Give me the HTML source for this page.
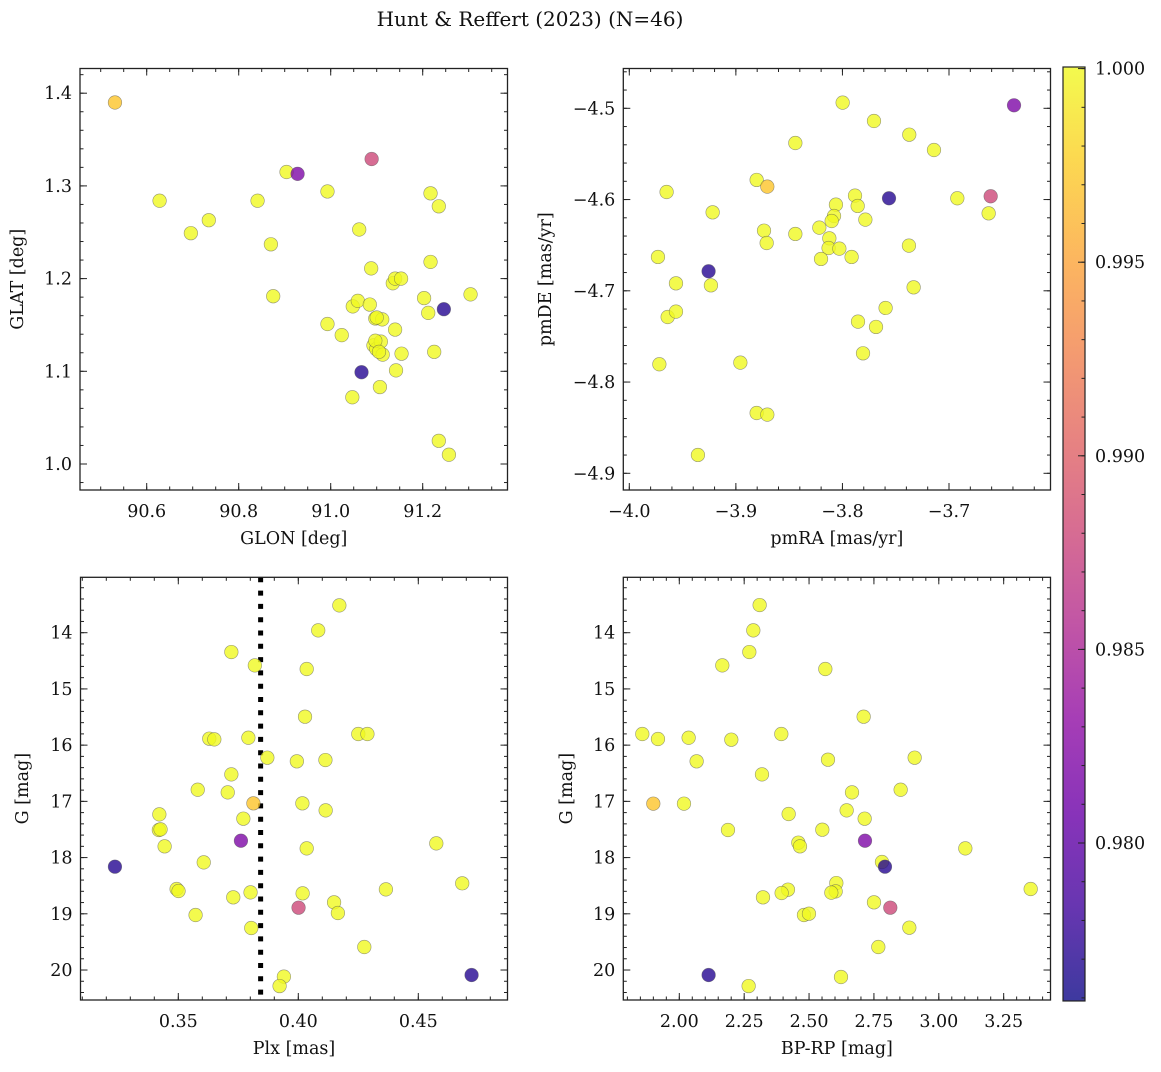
<!DOCTYPE html>
<html><head><meta charset="utf-8">
<style>
html,body{margin:0;padding:0;background:#fff;}
svg text{font-family:"DejaVu Serif","Liberation Serif",serif;fill:#111;}
</style></head>
<body>
<svg id="fig" width="1161" height="1067" viewBox="0 0 1161 1067" xmlns="http://www.w3.org/2000/svg">
<defs>
<linearGradient id="plasma" x1="0" y1="1" x2="0" y2="0">
<stop offset="0" stop-color="#0d0887"/><stop offset="0.1" stop-color="#41049d"/><stop offset="0.2" stop-color="#6a00a8"/><stop offset="0.3" stop-color="#8f0da4"/><stop offset="0.4" stop-color="#b12a90"/><stop offset="0.5" stop-color="#cc4778"/><stop offset="0.6" stop-color="#e16462"/><stop offset="0.7" stop-color="#f2844b"/><stop offset="0.8" stop-color="#fca636"/><stop offset="0.9" stop-color="#fcce25"/><stop offset="1" stop-color="#f0f921"/>
</linearGradient>
</defs>
<text x="530" y="26" font-size="20" text-anchor="middle">Hunt &amp; Reffert (2023) (N=46)</text>
</svg>
<script>
// ---- data ----
const glon=[90.531,90.628,90.696,90.735,90.841,90.870,90.875,90.904,90.928,90.993,90.993,91.024,91.047,91.048,91.059,91.062,91.067,91.085,91.088,91.089,91.093,91.097,91.099,91.107,91.109,91.112,91.113,91.135,91.140,91.153,91.140,91.142,91.154,91.203,91.212,91.217,91.217,91.225,91.235,91.235,91.246,91.257,91.304,91.100,91.097,91.105];
const glat=[1.390,1.284,1.249,1.263,1.284,1.237,1.181,1.315,1.313,1.294,1.151,1.139,1.072,1.170,1.176,1.253,1.099,1.172,1.211,1.329,1.128,1.157,1.124,1.083,1.132,1.156,1.118,1.195,1.200,1.200,1.145,1.101,1.119,1.179,1.163,1.218,1.292,1.121,1.278,1.025,1.167,1.010,1.183,1.158,1.133,1.121];
const probP1=[0.997,1,1,1,1,1,1,1,0.982,1,1,1,1,1,1,1,0.977,1,1,0.988,1,1,1,1,1,1,1,1,1,1,1,1,1,1,1,1,1,1,1,1,0.977,1,1,1,1,1];

const pmra=[-3.7998,-3.7704,-3.7373,-3.7141,-3.6390,-3.8442,-3.8805,-3.8705,-3.9650,-3.9218,-3.7882,-3.7857,-3.8061,-3.8079,-3.8101,-3.7785,-3.7563,-3.6922,-3.6609,-3.6628,-3.8736,-3.8711,-3.8442,-3.8217,-3.8123,-3.8130,-3.8029,-3.8201,-3.7914,-3.7376,-3.9731,-3.9256,-3.9234,-3.9562,-3.9640,-3.9562,-3.7332,-3.7595,-3.7854,-3.7685,-3.7807,-3.9718,-3.8958,-3.8805,-3.8705,-3.9356];
const pmde=[-4.4938,-4.5139,-4.5289,-4.5457,-4.4967,-4.5380,-4.5785,-4.5858,-4.5917,-4.6140,-4.5957,-4.6070,-4.6056,-4.6180,-4.6235,-4.6220,-4.5986,-4.5986,-4.5964,-4.6151,-4.6341,-4.6476,-4.6377,-4.6308,-4.6425,-4.6531,-4.6538,-4.6651,-4.6629,-4.6505,-4.6629,-4.6786,-4.6940,-4.6918,-4.7287,-4.7228,-4.6962,-4.7188,-4.7338,-4.7396,-4.7685,-4.7805,-4.7787,-4.8339,-4.8357,-4.8799];
const probP2=[1,1,1,1,0.982,1,1,0.997,1,1,1,1,1,1,1,1,0.977,1,0.988,1,1,1,1,1,1,1,1,1,1,1,1,0.977,1,1,1,1,1,1,1,1,1,1,1,1,1,1];

const plx=[0.4171,0.4083,0.3721,0.3819,0.4035,0.4028,0.4250,0.4288,0.3629,0.3650,0.3792,0.3871,0.3994,0.4113,0.3721,0.3581,0.3706,0.3813,0.4017,0.4114,0.3421,0.3771,0.3419,0.3426,0.3761,0.3443,0.4035,0.4575,0.3606,0.3236,0.3493,0.3501,0.3801,0.4018,0.4365,0.4683,0.3729,0.4149,0.4001,0.4165,0.3572,0.3804,0.4275,0.4722,0.3940,0.3922];
const gmagP3=[13.514,13.958,14.344,14.581,14.646,15.494,15.802,15.802,15.885,15.897,15.868,16.223,16.288,16.265,16.520,16.793,16.840,17.035,17.035,17.160,17.231,17.308,17.510,17.498,17.700,17.800,17.836,17.747,18.085,18.162,18.559,18.595,18.619,18.636,18.565,18.458,18.707,18.796,18.891,18.986,19.022,19.253,19.591,20.089,20.118,20.285];
const probP3=[1,1,1,1,1,1,1,1,1,1,1,1,1,1,1,1,1,0.997,1,1,1,1,1,1,0.982,1,1,1,1,0.977,1,1,1,1,1,1,1,1,0.988,1,1,1,1,0.977,1,1];
const plxLine=[0.3843];

const bprp=[2.3096,2.2852,2.2698,2.1657,2.5627,2.7104,1.8574,1.9178,2.0360,2.2004,2.3931,2.0668,2.5730,2.9070,2.3186,2.6655,2.8530,1.8998,2.0180,2.6449,2.4214,2.7143,2.1876,2.5511,2.4587,2.4651,2.7156,3.1022,2.7810,2.7926,2.6051,2.6025,2.5858,2.4188,2.3944,2.3225,3.3541,2.7502,2.8131,2.4804,2.4997,2.8864,2.7669,2.1130,2.6231,2.2672];
const gmagP4=[13.508,13.958,14.344,14.581,14.646,15.494,15.802,15.891,15.868,15.903,15.802,16.288,16.259,16.223,16.520,16.840,16.793,17.041,17.041,17.160,17.225,17.308,17.510,17.504,17.735,17.800,17.700,17.836,18.079,18.162,18.453,18.601,18.624,18.571,18.630,18.707,18.559,18.796,18.891,19.022,18.998,19.247,19.591,20.089,20.124,20.285];
const probP4=[1,1,1,1,1,1,1,1,1,1,1,1,1,1,1,1,1,0.997,1,1,1,1,1,1,1,1,0.982,1,1,0.977,1,1,1,1,1,1,1,1,0.988,1,1,1,1,0.977,1,1];

const cbTicks=[1.000,0.995,0.990,0.985,0.980];
const cbTickLabels=["1.000","0.995","0.990","0.985","0.980"];
const p1xTicks=[90.6,90.8,91.0,91.2], p1xLabels=["90.6","90.8","91.0","91.2"];
const p1yTicks=[1.0,1.1,1.2,1.3,1.4], p1yLabels=["1.0","1.1","1.2","1.3","1.4"];
const p2xTicks=[-4.0,-3.9,-3.8,-3.7], p2xLabels=["\u22124.0","\u22123.9","\u22123.8","\u22123.7"];
const p2yTicks=[-4.5,-4.6,-4.7,-4.8,-4.9], p2yLabels=["\u22124.5","\u22124.6","\u22124.7","\u22124.8","\u22124.9"];
const p3xTicks=[0.35,0.40,0.45], p3xLabels=["0.35","0.40","0.45"];
const gTicks=[14,15,16,17,18,19,20], gLabels=["14","15","16","17","18","19","20"];
const p4xTicks=[2.00,2.25,2.50,2.75,3.00,3.25], p4xLabels=["2.00","2.25","2.50","2.75","3.00","3.25"];

// ---- helpers ----
const NS="http://www.w3.org/2000/svg";
const svg=document.getElementById('fig');
function mk(tag,attrs,parent){const e=document.createElementNS(NS,tag);for(const k in attrs)e.setAttribute(k,attrs[k]);(parent||svg).appendChild(e);return e;}
const VMIN=0.97592, VMAX=1.0;
const stops=[[0,[13,8,135]],[0.1,[65,4,157]],[0.2,[106,0,168]],[0.3,[143,13,164]],[0.4,[177,42,144]],[0.5,[204,71,120]],[0.6,[225,100,98]],[0.7,[242,132,75]],[0.8,[252,166,54]],[0.9,[252,206,37]],[1,[240,249,33]]];
function plasma(v){let t=(v-VMIN)/(VMAX-VMIN);t=Math.max(0,Math.min(1,t));
 for(let i=1;i<stops.length;i++){if(t<=stops[i][0]){const a=stops[i-1],b=stops[i];const f=(t-a[0])/(b[0]-a[0]);
  const c=a[1].map((x,j)=>Math.round(x+(b[1][j]-x)*f));return `rgb(${c[0]},${c[1]},${c[2]})`;}}
 return 'rgb(240,249,33)';}
function lin(v0,p0,scale){const f=v=>p0+(v-v0)*scale;f.inv=p=>v0+(p-p0)/scale;return f;}

function panel(cfg){
 const g=mk('g',{});
 
 
 const {L,R,T,B,x,y}=cfg;
 const clipId=cfg.name+'-clip';
 const cp=mk('clipPath',{id:clipId},g);mk('rect',{x:L,y:T,width:R-L,height:B-T},cp);
 const marks=mk('g',{'clip-path':`url(#${clipId})`},g);
 
 
 if(cfg.vline){cfg.vline.forEach(v=>{const l=mk('line',{x1:x(v),x2:x(v),y1:T,y2:B,stroke:'#000','stroke-width':5,'stroke-dasharray':'5 8.3'},marks);
  
  });}
 const idx=cfg.xs.map((_,i)=>i).sort((a,b)=>(cfg.p[b]-cfg.p[a]));
 idx.forEach(i=>{const c=mk('circle',{cx:x(cfg.xs[i]),cy:y(cfg.ys[i]),r:6.8,fill:plasma(cfg.p[i]),'fill-opacity':0.8,stroke:'#555','stroke-opacity':0.6,'stroke-width':0.6},marks);
  
  });
 const fr=mk('rect',{x:L,y:T,width:R-L,height:B-T,fill:'none',stroke:'#222','stroke-width':1.3},g);
 
 
 const tk=mk('g',{stroke:'#222','stroke-width':1},g);
 function range(f,lo,hi,step){const a=Math.min(f.inv(lo),f.inv(hi)),b=Math.max(f.inv(lo),f.inv(hi));const out=[];for(let k=Math.ceil(a/step-1e-9);k<=Math.floor(b/step+1e-9);k++)out.push(k*step);return out;}
 range(x,L,R,cfg.xminor).forEach(v=>{const px=x(v);mk('line',{x1:px,x2:px,y1:B,y2:B-3.5},tk);mk('line',{x1:px,x2:px,y1:T,y2:T+3.5},tk);});
 range(y,T,B,cfg.yminor).forEach(v=>{const py=y(v);mk('line',{x1:L,x2:L+3.5,y1:py,y2:py},tk);mk('line',{x1:R,x2:R-3.5,y1:py,y2:py},tk);});
 cfg.xt.forEach((v,i)=>{const px=x(v);mk('line',{x1:px,x2:px,y1:B,y2:B-7},tk);mk('line',{x1:px,x2:px,y1:T,y2:T+7},tk);
  const t=mk('text',{x:px,y:B+27,'font-size':17.5,'text-anchor':'middle'},g);t.textContent=cfg.xl[i];
  
  });
 cfg.yt.forEach((v,i)=>{const py=y(v);mk('line',{x1:L,x2:L+7,y1:py,y2:py},tk);mk('line',{x1:R,x2:R-7,y1:py,y2:py},tk);
  const t=mk('text',{x:L-8,y:py+6,'font-size':17.5,'text-anchor':'end'},g);t.textContent=cfg.yl[i];
  
  });
 const xt=mk('text',{x:(L+R)/2,y:B+54,'font-size':17.5,'text-anchor':'middle'},g);xt.textContent=cfg.xtitle;
 
 
 const yx=cfg.ytx, yy=(T+B)/2;
 const ytt=mk('text',{x:yx,y:yy,'font-size':17.5,'text-anchor':'middle',transform:`rotate(-90 ${yx} ${yy})`},g);ytt.textContent=cfg.ytitle;
 
 
}

const gy=lin(14,632.7,56.22);
panel({name:'glon-glat-panel',L:80,R:507.5,T:68.5,B:490,x:lin(90.6,146.7,460),y:lin(1.0,464,-927),xs:glon,ys:glat,p:probP1,
 xt:p1xTicks,xl:p1xLabels,yt:p1yTicks,yl:p1yLabels,xminor:0.05,yminor:0.02,xtitle:'GLON [deg]',ytitle:'GLAT [deg]',ytx:23});
panel({name:'proper-motion-panel',L:623.3,R:1050.5,T:68.5,B:490,x:lin(-4.0,629.3,1065.7),y:lin(-4.5,108.3,-912.5),xs:pmra,ys:pmde,p:probP2,
 xt:p2xTicks,xl:p2xLabels,yt:p2yTicks,yl:p2yLabels,xminor:0.02,yminor:0.02,xtitle:'pmRA [mas/yr]',ytitle:'pmDE [mas/yr]',ytx:551});
panel({name:'parallax-mag-panel',L:80.5,R:507.5,T:577.3,B:1000,x:lin(0.35,178.3,2400),y:gy,xs:plx,ys:gmagP3,p:probP3,vline:plxLine,
 xt:p3xTicks,xl:p3xLabels,yt:gTicks,yl:gLabels,xminor:0.01,yminor:0.2,xtitle:'Plx [mas]',ytitle:'G [mag]',ytx:28});
panel({name:'color-mag-panel',L:623.3,R:1050.5,T:577.3,B:1000,x:lin(2.0,679.3,259.5),y:gy,xs:bprp,ys:gmagP4,p:probP4,
 xt:p4xTicks,xl:p4xLabels,yt:gTicks,yl:gLabels,xminor:0.05,yminor:0.2,xtitle:'BP-RP [mag]',ytitle:'G [mag]',ytx:572});

// colorbar
const cb=mk('g',{});


const cy=lin(0.980,843,-38720);
const cbT=cy(VMAX)-1.6, cbB=cy(VMIN);
const cr=mk('rect',{x:1063,y:cbT,width:22,height:cbB-cbT,fill:'url(#plasma)','fill-opacity':0.8,stroke:'#222','stroke-width':1.2},cb);


for(let k=976;k<=1000;k++){const v=k/1000,py=cy(v);mk('line',{x1:1085,x2:1081.5,y1:py,y2:py,stroke:'#222','stroke-width':1},cb);}
cbTicks.forEach((v,i)=>{const py=cy(v);mk('line',{x1:1085,x2:1078,y1:py,y2:py,stroke:'#222','stroke-width':1},cb);
 const t=mk('text',{x:1095,y:py+6,'font-size':17.5},cb);t.textContent=cbTickLabels[i];
 
 });
</script>
</body></html>
